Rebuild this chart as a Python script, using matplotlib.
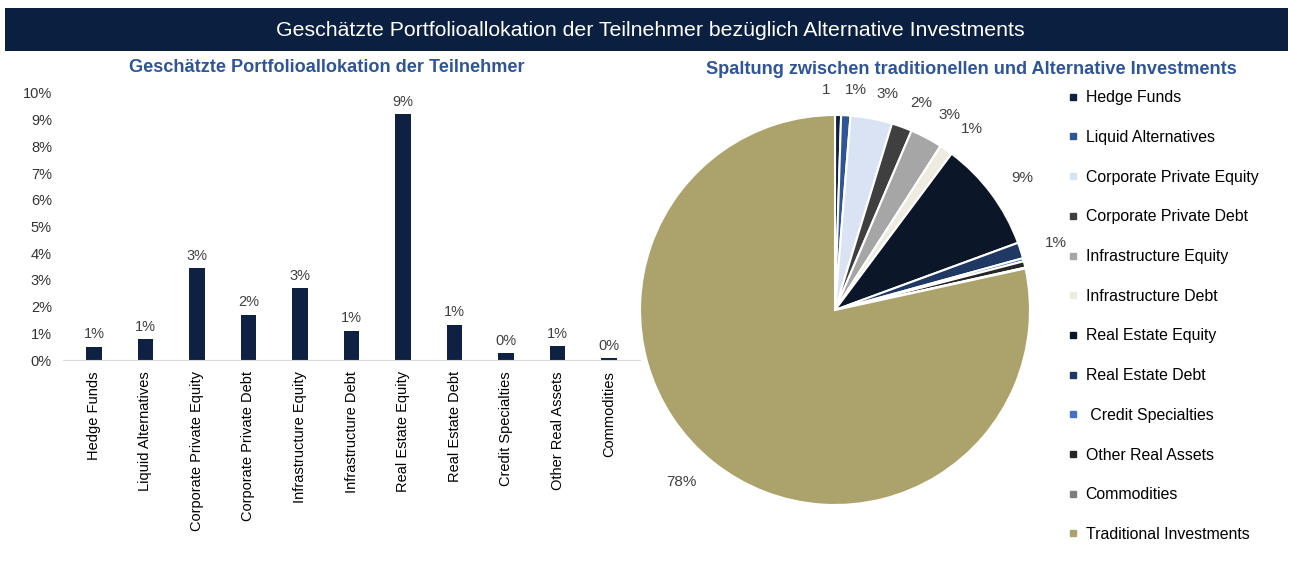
import matplotlib
matplotlib.use("Agg")
import matplotlib.pyplot as plt
from matplotlib.patches import Rectangle
from matplotlib.lines import Line2D
import numpy as np

plt.rcParams['font.family'] = ['Liberation Sans', 'DejaVu Sans']

categories = ["Hedge Funds", "Liquid Alternatives", "Corporate Private Equity",
              "Corporate Private Debt", "Infrastructure Equity", "Infrastructure Debt",
              "Real Estate Equity", "Real Estate Debt", "Credit Specialties",
              "Other Real Assets", "Commodities"]
values = [0.50, 0.77, 3.45, 1.70, 2.68, 1.10, 9.20, 1.32, 0.26, 0.53, 0.07]
bar_labels = ["1%", "1%", "3%", "2%", "3%", "1%", "9%", "1%", "0%", "1%", "0%"]
yticks = [0, 1, 2, 3, 4, 5, 6, 7, 8, 9, 10]

traditional = 78.42
pie_names = categories + ["Traditional Investments"]
pie_values = values + [traditional]
pie_labels = ["1", "1%", "3%", "2%", "3%", "1%", "9%", "1%", "", "", "", "78%"]
legend_names = ["Hedge Funds", "Liquid Alternatives", "Corporate Private Equity",
                "Corporate Private Debt", "Infrastructure Equity", "Infrastructure Debt",
                "Real Estate Equity", "Real Estate Debt", " Credit Specialties",
                "Other Real Assets", "Commodities", "Traditional Investments"]
pie_colors = ["#0e2142", "#2f5597", "#dae3f3", "#3f3f3f", "#a6a6a6", "#eeece1",
              "#0b1628", "#1f3864", "#4472c4", "#262626", "#7f7f7f", "#aca36c"]

navy = "#0e2142"
title_blue = "#2f5597"

fig = plt.figure(figsize=(12.9, 5.66), dpi=100)

# header bar
fig.patches.append(Rectangle((5 / 1290, 1 - 51 / 566), 1283 / 1290, 43 / 566,
                             transform=fig.transFigure, facecolor="#0b1f40",
                             edgecolor="none", zorder=0))
fig.text(650 / 1290, 1 - 30 / 566,
         "Geschätzte Portfolioallokation der Teilnehmer bezüglich Alternative Investments",
         color="white", fontsize=15.3, ha="center", va="center")

# bar chart
ax = fig.add_axes([63 / 1290, 1 - 360 / 566, 577 / 1290, 267 / 566])
x = np.arange(len(categories))
ax.bar(x, values, width=0.3, color=navy)
for xi, v, lab in zip(x, values, bar_labels):
    ax.text(xi, v + 0.2, lab, ha="center", va="bottom", fontsize=10.5, color="#404040")
ax.set_ylim(0, 10)
ax.set_xlim(-0.6, len(categories) - 0.4)
ax.set_yticks(yticks)
ax.set_yticklabels([f"{t}%" for t in yticks], fontsize=10.5, color="#333333")
ax.set_xticks(x)
ax.set_xticklabels(categories, rotation=90, fontsize=10.5)
ax.tick_params(length=0, pad=8)
for s in ["top", "right", "left"]:
    ax.spines[s].set_visible(False)
ax.spines["bottom"].set_color("#d9d9d9")
fig.text(327 / 1290, 1 - 68 / 566, "Geschätzte Portfolioallokation der Teilnehmer",
         color=title_blue, fontsize=13.1, fontweight="bold", ha="center", va="center")

# pie chart
pax = fig.add_axes([640 / 1290, 1 - 505 / 566, 390 / 1290, 390 / 566])
wedges, texts = pax.pie(pie_values, colors=pie_colors, startangle=90, counterclock=False,
                        labels=pie_labels, labeldistance=1.13,
                        wedgeprops=dict(edgecolor="white", linewidth=1.5),
                        textprops=dict(fontsize=11, color="#404040"))
# nudge the two tiny top labels apart
tx, ty = texts[0].get_position()
texts[0].set_position((tx - 0.085, ty))
tx, ty = texts[1].get_position()
texts[1].set_position((tx - 0.01, ty))
pax.set_xlim(-1, 1)
pax.set_ylim(-1, 1)
pax.set_aspect("equal")
fig.text(971 / 1290, 1 - 70 / 566,
         "Spaltung zwischen traditionellen und Alternative Investments",
         color=title_blue, fontsize=13.1, fontweight="bold", ha="center", va="center")

handles = [Line2D([], [], marker="s", linestyle="none", markersize=4.5,
                  markerfacecolor=c, markeredgecolor=c) for c in pie_colors]
fig.legend(handles, legend_names, loc="upper left",
           bbox_to_anchor=(1054 / 1290, 1 - 76 / 566), frameon=False,
           fontsize=11.4, labelspacing=1.56, handlelength=0.6, handletextpad=0.5)

fig.savefig("out.png", dpi=100)
